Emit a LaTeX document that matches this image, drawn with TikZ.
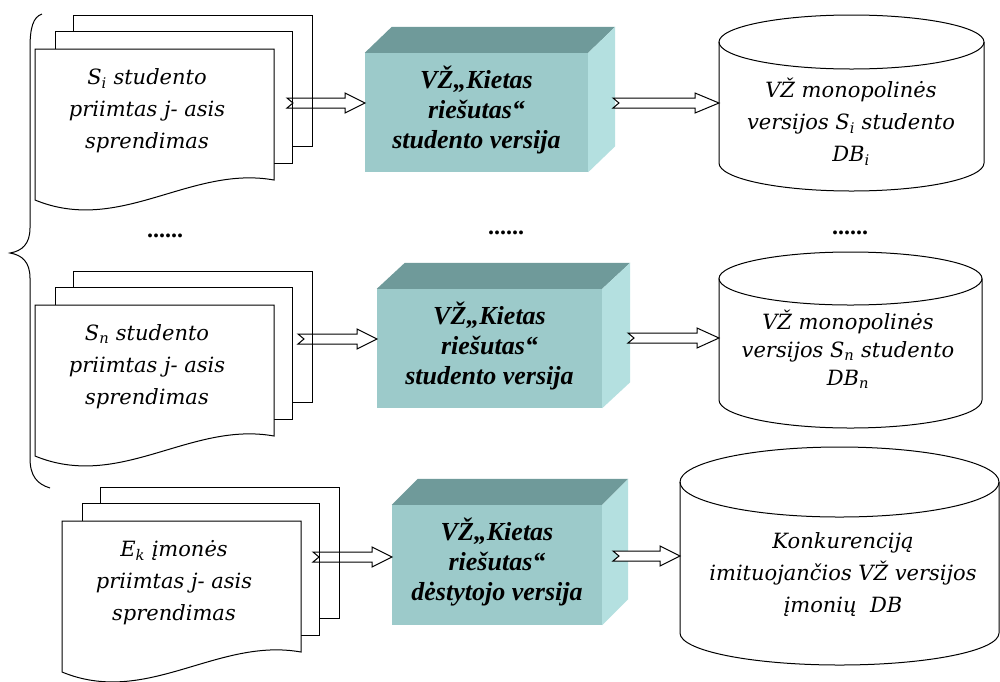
\documentclass[tikz,border=0pt]{standalone}
\usepackage{fontspec}
\setmainfont{Liberation Serif}
\newfontfamily\docfont{DejaVu Serif}
\usetikzlibrary{calc}

\definecolor{cubefront}{HTML}{9CCACA}
\definecolor{cubetop}{HTML}{6F9A9A}
\definecolor{cubeside}{HTML}{B4E0E0}

\tikzset{
  page/.style={draw=black, fill=white, line width=1pt, line join=miter},
  doctext/.style={align=center, font=\docfont\itshape\fontsize{21}{32}\selectfont, inner sep=0pt},
  cubetext/.style={align=center, font=\bfseries\itshape\fontsize{26}{30}\selectfont, inner sep=0pt},
  cubefrontbox/.style={fill=cubefront, inner sep=0pt},
  cyl/.style={draw=black, line width=1pt},
  blockarrow/.style={draw=black, line width=1pt, line join=miter},
  whitearrow/.style={blockarrow, fill=white},
  dotrow/.style={font=\bfseries\fontsize{24}{24}\selectfont, inner sep=0pt},
  bracepath/.style={draw=black, line width=1pt},
}

% outlined block arrow with a notched tail, from one named point to another
\newcommand\fatarrow[4][blockarrow]{%
  \draw[#1] let \p1=(#2), \p2=(#3) in
    (\x1,\y1+5pt) -- (\x2-#4,\y1+5pt) -- (\x2-#4,\y1+10pt) -- (\x2,\y1)
    -- (\x2-#4,\y1-10pt) -- (\x2-#4,\y1-5pt) -- (\x1,\y1-5pt) -- (\x1+6pt,\y1) -- cycle;}

% a stack of three pages; the front one has a wavy lower edge
\newcommand\docstack[4]{%
  \begin{scope}[shift={(#2,#3)}]
    \draw[page] (38,-34) rectangle (277,97);
    \draw[page] (20,-18) rectangle (257,114);
    \draw[page] (0,0) -- (239,0) -- (239,131)
      .. controls (155,116) and (85,186) .. (0,151) -- cycle;
    \node[doctext] (#1) at (112,62) {#4};
  \end{scope}}

% shaded cuboid: front face node plus top and right faces
\newcommand\cuboid[7]{% name, cx, cy, width, height, depth x, text
  \node[cubefrontbox, minimum width=#4pt, minimum height=#5pt] (#1) at (#2,#3) {};
  \fill[cubetop] (#1.north west) -- ++(#6,-26) -- ($(#1.north east)+(#6,-26)$) -- (#1.north east) -- cycle;
  \fill[cubeside] (#1.north east) -- ++(#6,-26) -- ($(#1.south east)+(#6,-26)$) -- (#1.south east) -- cycle;
  \node[cubetext] (#1t) at (#2,#3-3) {#7};}

% database cylinder: left x, right x, top centre y, top radius, bottom centre y, bottom radius
\newcommand\dbcyl[6]{%
  \draw[cyl] (#1,#3) -- (#1,#5)
     arc[start angle=180, end angle=360, x radius={(#2-#1)/2*1pt}, y radius=#6pt]
     -- (#2,#3);
  \draw[cyl] ({(#1+#2)/2},#3) ellipse [x radius={(#2-#1)/2*1pt}, y radius=#4pt];}

\begin{document}
\begin{tikzpicture}[x=1pt, y=-1pt]
  \fill[white] (0,0) rectangle (1000,681);
  \useasboundingbox (0,0) rectangle (1000,681);

  % grouping brace for the student rows
  \draw[bracepath] (42,14) .. controls (33,17) and (30,28) .. (30,48)
     -- (30,228) .. controls (30,244) and (22,251) .. (10,253)
     .. controls (22,255) and (30,262) .. (30,278)
     -- (30,458) .. controls (30,476) and (37,484) .. (50,488);

  % ---------- row 1 ----------
  \docstack{d1}{35}{49}{S\textsubscript{i} studento\\ priimtas j- asis\\ sprendimas}
  \cuboid{b1}{476.5}{112.5}{223}{119}{27}{VŽ„Kietas\\ riešutas“\\ studento versija}
  \dbcyl{719}{984}{42}{27}{163}{28}
  \node[doctext] (c1) at (851,122) {VŽ monopolinės\\ versijos S\textsubscript{i} studento\\ DB\textsubscript{i}};
  \coordinate (d1o) at (287,103);
  \coordinate (b1i) at (365,103);
  \coordinate (b1o) at (613,103);
  \coordinate (c1i) at (719,103);
  \fatarrow{d1o}{b1i}{20pt}
  \fatarrow[whitearrow]{b1o}{c1i}{24pt}

  % ellipsis row
  \node[dotrow] (e1) at (165,236) {......};
  \node[dotrow] (e2) at (506,233) {......};
  \node[dotrow] (e3) at (850,233) {......};

  % ---------- row 2 ----------
  \docstack{d2}{35}{305}{S\textsubscript{n} studento\\ priimtas j- asis\\ sprendimas}
  \cuboid{b2}{489.5}{348.5}{225}{119}{28}{VŽ„Kietas\\ riešutas“\\ studento versija}
  \dbcyl{719}{982}{278.5}{26.5}{400}{28}
  \node[doctext, font=\docfont\itshape\fontsize{21}{28}\selectfont] (c2) at (848,349) {VŽ monopolinės\\ versijos S\textsubscript{n} studento\\ DB\textsubscript{n}};
  \coordinate (d2o) at (298,339);
  \coordinate (b2i) at (377,339);
  \coordinate (b2o) at (628,338);
  \coordinate (c2i) at (719,338);
  \fatarrow{d2o}{b2i}{20pt}
  \fatarrow[whitearrow]{b2o}{c2i}{22pt}

  % ---------- row 3 ----------
  \docstack{d3}{62}{521}{E\textsubscript{k} įmonės\\ priimtas j- asis\\ sprendimas}
  \cuboid{b3}{497}{565}{210}{120}{26}{VŽ„Kietas\\ riešutas“\\ dėstytojo versija}
  \dbcyl{680}{999}{482}{35}{633}{32}
  \node[doctext] (c3) at (843,575) {Konkurenciją\\ imituojančios VŽ versijos\\ įmonių\ \ DB};
  \coordinate (d3o) at (313,557);
  \coordinate (b3i) at (392,557);
  \coordinate (b3o) at (613,556);
  \coordinate (c3i) at (680,556);
  \fatarrow{d3o}{b3i}{20pt}
  \fatarrow[whitearrow]{b3o}{c3i}{20pt}
\end{tikzpicture}
\end{document}
